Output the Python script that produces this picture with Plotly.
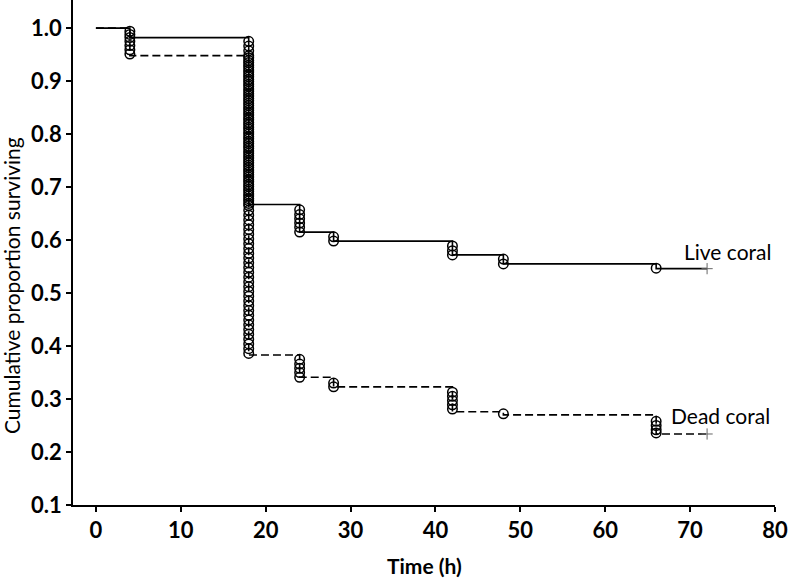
import plotly.graph_objects as go

# Kaplan-Meier step curves
live_t = [0, 4, 18, 24, 28, 42, 48, 66, 72]
live_s = [1.0, 0.982, 0.667, 0.615, 0.598, 0.572, 0.555, 0.546, 0.546]
dead_t = [0, 4, 18, 24, 28, 42, 48, 66, 72]
dead_s = [1.0, 0.948, 0.383, 0.341, 0.323, 0.276, 0.270, 0.234, 0.234]

# Event circles (time, survival)
live_circ_t = [4, 4, 4] + [18] * 35 + [24] * 6 + [28] * 2 + [42] * 3 + [48] * 2 + [66]
live_circ_s = [0.994, 0.988, 0.982,
               0.975, 0.966, 0.957, 0.948, 0.939, 0.930, 0.921, 0.912, 0.903, 0.894,
               0.885, 0.876, 0.867, 0.858, 0.849, 0.840, 0.831, 0.822, 0.813, 0.804,
               0.795, 0.786, 0.777, 0.768, 0.759, 0.750, 0.741, 0.732, 0.723, 0.714,
               0.705, 0.696, 0.687, 0.678, 0.669,
               0.657, 0.648, 0.640, 0.632, 0.624, 0.615,
               0.606, 0.598,
               0.589, 0.580, 0.572,
               0.564, 0.555,
               0.547]
dead_circ_t = [4] * 4 + [18] * 63 + [24] * 5 + [28] * 2 + [42] * 5 + [48] + [66] * 4
dead_circ_s = [0.975, 0.967, 0.959, 0.951,
               0.944, 0.935, 0.926, 0.917, 0.908, 0.899, 0.890, 0.881, 0.872, 0.863,
               0.854, 0.845, 0.836, 0.827, 0.818, 0.809, 0.800, 0.791, 0.782, 0.773,
               0.764, 0.755, 0.746, 0.737, 0.728, 0.719, 0.710, 0.701, 0.692, 0.683,
               0.674, 0.665, 0.656, 0.647, 0.638, 0.629, 0.620, 0.611, 0.602, 0.593,
               0.584, 0.575, 0.566, 0.557, 0.548, 0.539, 0.530, 0.521, 0.512, 0.503,
               0.494, 0.485, 0.476, 0.467, 0.458, 0.449, 0.440, 0.431, 0.422, 0.413,
               0.404, 0.395, 0.386,
               0.375, 0.366, 0.358, 0.350, 0.341,
               0.330, 0.323,
               0.313, 0.305, 0.297, 0.289, 0.281,
               0.272,
               0.258, 0.250, 0.242, 0.236]

# Censored end points
cens_t = [72, 72]
cens_s = [0.546, 0.234]

x_ticks = [0, 10, 20, 30, 40, 50, 60, 70, 80]
y_ticks = [0.1, 0.2, 0.3, 0.4, 0.5, 0.6, 0.7, 0.8, 0.9, 1.0]

FONT = "Lato"

fig = go.Figure()
fig.add_trace(go.Scatter(x=live_t, y=live_s, mode="lines", line_shape="hv",
                         line=dict(color="black", width=1.6), showlegend=False))
fig.add_trace(go.Scatter(x=dead_t, y=dead_s, mode="lines", line_shape="hv",
                         line=dict(color="black", width=1.6, dash="8px,4px"), showlegend=False))
circ_marker = dict(symbol="circle-open", size=9.5, color="black", line=dict(width=1.5, color="black"))
fig.add_trace(go.Scatter(x=live_circ_t, y=live_circ_s, mode="markers", marker=circ_marker, showlegend=False))
fig.add_trace(go.Scatter(x=dead_circ_t, y=dead_circ_s, mode="markers", marker=circ_marker, showlegend=False))
fig.add_trace(go.Scatter(x=cens_t, y=cens_s, mode="markers",
                         marker=dict(symbol="cross-thin-open", size=8, color="#666666",
                                     line=dict(width=1, color="#666666")), showlegend=False))

fig.update_layout(
    width=788, height=579,
    margin=dict(l=73, r=11, t=0, b=74),
    paper_bgcolor="white", plot_bgcolor="white",
    font=dict(family=FONT, color="black"),
    xaxis=dict(range=[-2.7, 80], tickvals=x_ticks, showgrid=False, zeroline=False,
               showline=True, linecolor="black", linewidth=1.5,
               ticks="outside", ticklen=5, tickwidth=1.5, tickcolor="black",
               ticklabeloverflow="allow",
               tickfont=dict(family=FONT, size=22, weight="bold")),
    yaxis=dict(range=[0.1, 1.053], tickvals=y_ticks, tickformat=".1f", showgrid=False, zeroline=False,
               showline=True, linecolor="black", linewidth=1.5,
               ticks="outside", ticklen=5, tickwidth=1.5, tickcolor="black",
               ticklabeloverflow="allow",
               tickfont=dict(family=FONT, size=22, weight="bold")),
    annotations=[
        dict(text="Time (h)", xref="paper", yref="paper", x=0.5, y=-0.119,
             xanchor="center", yanchor="middle",
             showarrow=False, font=dict(size=21, weight="bold")),
        dict(text="Cumulative proportion surviving", xref="paper", yref="paper", x=-0.0866, y=0.434,
             xanchor="center", yanchor="middle",
             textangle=-90, showarrow=False, font=dict(size=21)),
        dict(text="Live coral", xref="paper", yref="paper", x=0.932, y=0.501,
             xanchor="center", yanchor="middle",
             showarrow=False, font=dict(size=21)),
        dict(text="Dead coral", xref="paper", yref="paper", x=0.922, y=0.178,
             xanchor="center", yanchor="middle",
             showarrow=False, font=dict(size=21)),
    ],
)

fig.write_html("out.html")
